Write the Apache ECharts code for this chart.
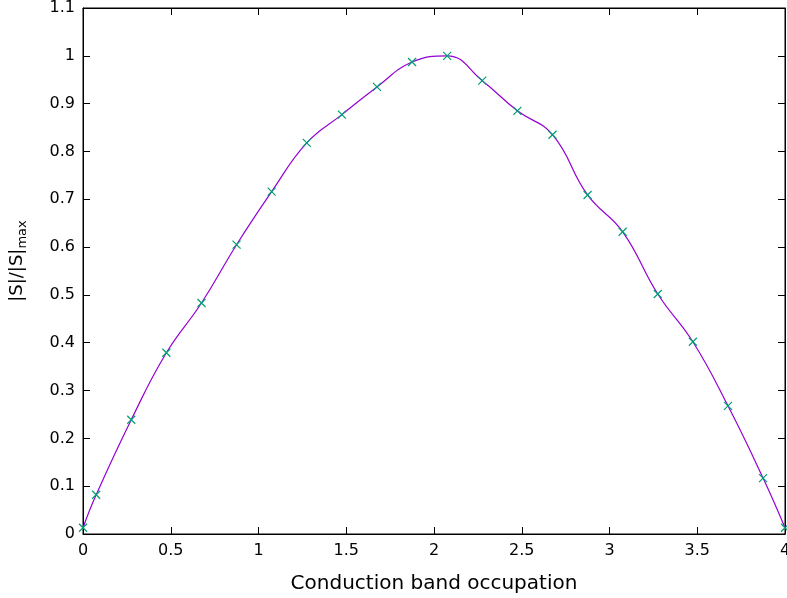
<!DOCTYPE html>
<html>
<head>
<meta charset="utf-8">
<script src="https://cdn.jsdelivr.net/npm/echarts@6/dist/echarts.min.js"></script>
<style>
  html, body { margin: 0; padding: 0; background: #fff; }
  #chart { width: 787px; height: 598px; }
</style>
</head>
<body>
<div id="chart"></div>
<script>
// occupation values and normalised |S|
var occupation = [0, 0.075, 0.275, 0.475, 0.675, 0.875, 1.075, 1.275, 1.475, 1.675, 1.875,
                  2.075, 2.275, 2.475, 2.675, 2.875, 3.075, 3.275, 3.475, 3.675, 3.875, 4];
var sNorm = [0.013, 0.082, 0.239, 0.379, 0.483, 0.605, 0.716, 0.818, 0.877, 0.935, 0.987,
             1.0, 0.948, 0.885, 0.835, 0.709, 0.632, 0.502, 0.402, 0.268, 0.117, 0.013];
var xTicks = [0, 0.5, 1, 1.5, 2, 2.5, 3, 3.5, 4];
var yTicks = [0, 0.1, 0.2, 0.3, 0.4, 0.5, 0.6, 0.7, 0.8, 0.9, 1, 1.1];

var points = occupation.map(function (x, i) { return [x, sNorm[i]]; });
var font = 'DejaVu Sans';

function axisBase(pos, showLabel, ticks) {
	return {
		type: 'value',
		position: pos,
		min: ticks[0],
		max: ticks[ticks.length - 1],
		interval: ticks[1] - ticks[0],
		axisLine: {show: true, onZero: false, lineStyle: {color: '#000', width: 1}},
		axisTick: {show: true, inside: true, length: 7, lineStyle: {color: '#000'}},
		splitLine: {show: false},
		axisLabel: {show: showLabel, color: '#000', fontFamily: font, fontSize: 16}
	};
}

var xBottom = axisBase('bottom', true, xTicks);
xBottom.axisLabel.margin = 9;
xBottom.name = 'Conduction band occupation';
xBottom.nameLocation = 'middle';
xBottom.nameGap = 40;
xBottom.nameTextStyle = {color: '#000', fontFamily: font, fontSize: 20};

var yLeft = axisBase('left', true, yTicks);
yLeft.axisLabel.margin = 8;
yLeft.name = '{a||S|/|S|}{b|max}';
yLeft.nameLocation = 'middle';
yLeft.nameGap = 54;
yLeft.nameTextStyle = {
	color: '#000', fontFamily: font, fontSize: 18,
	padding: [0, 0, 0, 20],
	rich: {
		a: {fontFamily: font, fontSize: 18, color: '#000', lineHeight: 24},
		b: {fontFamily: font, fontSize: 13, color: '#000', verticalAlign: 'bottom', padding: [7, 0, 0, 0]}
	}
};

var chart = echarts.init(document.getElementById('chart'), null, {renderer: 'canvas'});
chart.setOption({
	animation: false,
	grid: {left: 83, right: 2, top: 8, bottom: 64, outerBoundsMode: 'none', containLabel: false,
	       show: true, borderColor: '#000', borderWidth: 1},
	xAxis: [xBottom, axisBase('top', false, xTicks)],
	yAxis: [yLeft, axisBase('right', false, yTicks)],
	series: [
		{
			type: 'line',
			data: points,
			smooth: 0.45,
			showSymbol: false,
			symbol: 'none',
			lineStyle: {color: '#9400d3', width: 1.2},
			z: 2
		},
		{
			type: 'scatter',
			data: points,
			symbol: 'path://M0,0L8,8M8,0L0,8',
			symbolSize: 8,
			clip: false,
			itemStyle: {color: 'none', borderColor: '#009e73', borderWidth: 1.2, opacity: 1},
			z: 3
		}
	]
});
</script>
</body>
</html>
